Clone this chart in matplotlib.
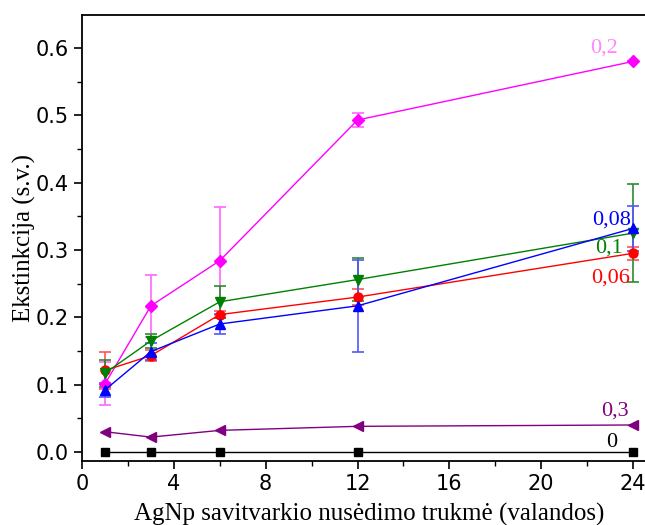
import matplotlib
matplotlib.use("Agg")
import matplotlib.pyplot as plt
from matplotlib.ticker import MultipleLocator

hours = [1, 3, 6, 12, 24]

c0 = [0.0, 0.0, 0.0, 0.0, 0.0]
c03 = [0.030, 0.022, 0.032, 0.038, 0.040]
c02 = [0.101, 0.217, 0.284, 0.493, 0.580]
c02_err = [0.032, 0.046, 0.080, 0.010, 0.0]
c01 = [0.117, 0.165, 0.223, 0.256, 0.325]
c01_err = [0.020, 0.010, 0.024, 0.032, 0.073]
c006 = [0.121, 0.143, 0.204, 0.230, 0.295]
c006_err = [0.028, 0.008, 0.005, 0.012, 0.010]
c008 = [0.092, 0.149, 0.190, 0.217, 0.332]
c008_err = [0.010, 0.013, 0.015, 0.068, 0.033]

labels = ["0", "0,3", "0,2", "0,1", "0,06", "0,08"]

fig = plt.figure(figsize=(6.45, 5.25), dpi=100)
ax = fig.add_axes([82/645, 64/525, (25*22.96)/645, (461-15)/525])

serif = "Liberation Serif"

def series(y, err, color, ecolor, marker, ms=6.5):
    if err is not None:
        ax.errorbar(hours, y, yerr=err, fmt='none', ecolor=ecolor, elinewidth=1.2,
                    capsize=4, capthick=1.2, zorder=2)
    ax.plot(hours, y, color=color, lw=1.0, marker=marker, ms=ms, mec=color, mfc=color, zorder=3)

series(c0, None, "black", None, "s", 5.5)
series(c03, None, "#800080", None, "<", 7)
series(c02, c02_err, "#ff00ff", "#ff66ff", "D", 6)
series(c006, c006_err, "#ff0000", "#ff5555", "o", 6.5)
series(c01, c01_err, "#008000", "#2e8b2e", "v", 7)
series(c008, c008_err, "#0000ff", "#5555ff", "^", 7)

fs = 16
ax.text(23.35, 0.600, labels[2], color="#ff88ff", fontsize=fs, family=serif, ha="right", va="center")
ax.text(23.9, 0.345, labels[5], color="#0000ff", fontsize=fs, family=serif, ha="right", va="center")
ax.text(23.55, 0.303, labels[3], color="#008000", fontsize=fs, family=serif, ha="right", va="center")
ax.text(23.85, 0.258, labels[4], color="#ff0000", fontsize=fs, family=serif, ha="right", va="center")
ax.text(23.8, 0.061, labels[1], color="#800080", fontsize=fs, family=serif, ha="right", va="center")
ax.text(23.3, 0.014, labels[0], color="black", fontsize=fs, family=serif, ha="right", va="center")

ax.set_xlim(0, 25)
ax.set_ylim(-0.0135, 0.649)
ax.xaxis.set_minor_locator(MultipleLocator(2))
ax.yaxis.set_minor_locator(MultipleLocator(0.05))
ax.set_xticks([0, 4, 8, 12, 16, 20, 24])
ax.set_yticks([0.0, 0.1, 0.2, 0.3, 0.4, 0.5, 0.6])
ax.set_yticklabels(["0.0", "0.1", "0.2", "0.3", "0.4", "0.5", "0.6"])
ax.tick_params(which="major", direction="out", length=6, width=1.2, labelsize=15)
ax.tick_params(which="minor", direction="out", length=3.5, width=1.0)
for s in ["left", "bottom", "top"]:
    ax.spines[s].set_linewidth(1.3)
ax.spines["right"].set_visible(False)

ax.set_xlabel("AgNp savitvarkio nusėdimo trukmė (valandos)", family=serif, fontsize=18, labelpad=6)
ax.set_ylabel("Ekstinkcija (s.v.)", family=serif, fontsize=18, labelpad=0)

fig.savefig("out.png", dpi=100)
